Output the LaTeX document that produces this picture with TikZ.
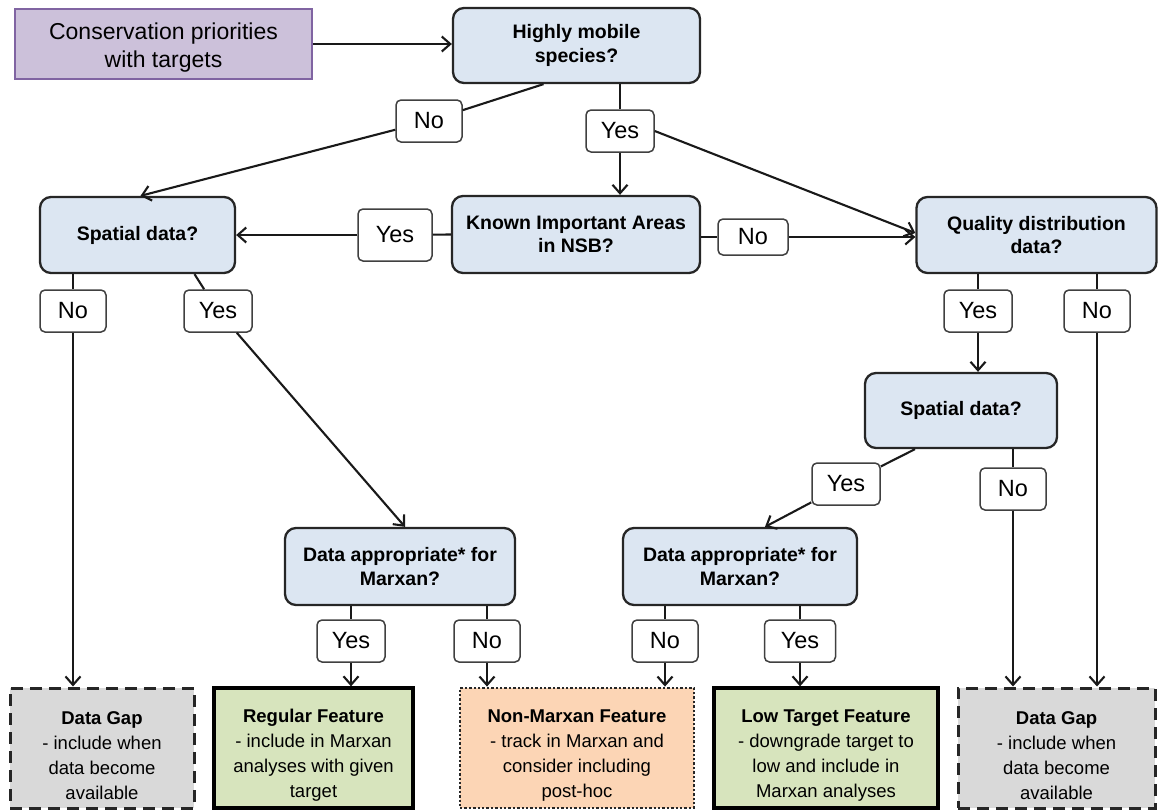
\documentclass[tikz,border=0pt]{standalone}
\usepackage{fontspec}
\setmainfont{Liberation Sans}
\usetikzlibrary{arrows.meta,calc}
\definecolor{decfill}{HTML}{DCE6F2}
\definecolor{purfill}{HTML}{CCC1DA}
\definecolor{purdraw}{HTML}{8064A2}
\definecolor{grnfill}{HTML}{D7E4BD}
\definecolor{orgfill}{HTML}{FCD5B5}
\definecolor{gryfill}{HTML}{D9D9D9}
\newcommand\topstrutx{\rule{0pt}{28pt}}
\begin{document}
\begin{tikzpicture}[x=1pt,y=-1pt,
 dec/.style={draw=black!85, fill=decfill, line width=2.3pt, rounded corners=11pt, align=center, font=\bfseries\fontsize{19.5}{23.5}\selectfont, inner sep=0pt},
 lbl/.style={draw=black!75, fill=white, line width=1.5pt, rounded corners=5pt, font=\fontsize{23.5}{27}\selectfont, inner sep=0pt, minimum height=42pt},
 lyes/.style={lbl, minimum width=68pt},
 lno/.style={lbl, minimum width=66pt},
 outbox/.style={minimum height=120pt, align=center, inner sep=0pt, font=\fontsize{18.5}{25}\selectfont},
 gapbox/.style={outbox, fill=gryfill, draw=black!85, line width=3pt, dash pattern=on 12pt off 7pt},
 grnbox/.style={outbox, fill=grnfill, draw=black, line width=3.3pt},
 orgbox/.style={outbox, fill=orgfill, draw=black!85, line width=2.8pt, dash pattern=on 2.4pt off 2pt},
 conn/.style={line width=2.1pt, draw=black!90},
 arr/.style={conn, -{Straight Barb[length=8.5pt,width=15pt]}}]
\useasboundingbox (0,0) rectangle (1159,811);
% boxes
\node[draw=purdraw, fill=purfill, line width=2.3pt, minimum width=297pt, minimum height=70pt, align=center, inner sep=0pt, font=\fontsize{23}{28}\selectfont] (cons) at (163.5,44) {\rule{0pt}{24pt}Conservation priorities\\with targets};
\node[dec, minimum width=247pt, minimum height=75pt] (hm) at (576.5,45.5) {Highly mobile\\species?};
\node[dec, minimum width=195pt, minimum height=76pt] (sdl) at (137.5,235) {Spatial data?};
\node[dec, minimum width=248pt, minimum height=77pt] (kia) at (576,234.5) {Known Important Areas\\in NSB?};
\node[dec, minimum width=240pt, minimum height=76pt] (qdd) at (1036.5,235) {Quality distribution\\data?};
\node[dec, minimum width=192pt, minimum height=75pt] (sdr) at (961,410.5) {Spatial data?};
\node[dec, minimum width=230pt, minimum height=77pt] (dal) at (400,566.5) {Data appropriate* for\\Marxan?};
\node[dec, minimum width=234pt, minimum height=77pt] (dar) at (740,566.5) {Data appropriate* for\\Marxan?};
\node[gapbox, minimum width=184pt] (gap1) at (102,748) {\topstrutx{\bfseries Data Gap}\\- include when\\data become\\available};
\node[grnbox, minimum width=199pt] (reg) at (313.5,748) {\topstrutx{\bfseries Regular Feature}\\- include in Marxan\\analyses with given\\target};
\node[orgbox, minimum width=234pt] (non) at (577,748) {\topstrutx{\bfseries Non-Marxan Feature}\\- track in Marxan and\\consider including\\post-hoc};
\node[grnbox, minimum width=224pt] (low) at (826,748) {\topstrutx{\bfseries Low Target Feature}\\- downgrade target to\\low and include in\\Marxan analyses};
\node[gapbox, minimum width=197pt] (gap2) at (1056.5,748) {\topstrutx{\bfseries Data Gap}\\- include when\\data become\\available};
% labels
\node[lno] (l1) at (429,121) {No};
\node[lyes] (l2) at (620,131) {Yes};
\node[lbl, minimum width=74pt, minimum height=52pt] (l3) at (395,235) {Yes};
\node[lbl, minimum width=70pt, minimum height=36pt] (l4) at (753,237) {No};
\node[lno] (l5) at (73,311) {No};
\node[lyes] (l6) at (218,311) {Yes};
\node[lyes] (l7) at (978,311) {Yes};
\node[lno] (l8) at (1097,311) {No};
\node[lyes] (l9) at (846,484) {Yes};
\node[lno] (l10) at (1013,489) {No};
\node[lyes] (l11) at (351,641) {Yes};
\node[lno] (l12) at (487,641) {No};
\node[lno] (l13) at (665,641) {No};
\node[lbl, minimum width=71pt] (l14) at (800,641) {Yes};
% connectors
\draw[arr] (cons.east) -- (cons.east -| hm.west);
\draw[conn] ([xshift=-33pt]hm.south) -- (l1);
\draw[arr] (l1) -- ([xshift=3pt]sdl.north);
\draw[conn] (l2 |- hm.south) -- (l2);
\draw[arr] (l2) -- (l2 |- kia.north);
\draw[arr] (l2.east) -- ([yshift=2pt]qdd.west);
\draw[conn] (kia.west) -- (l3);
\draw[arr] (l3) -- (sdl.east);
\draw[conn] (l4 -| kia.east) -- (l4);
\draw[arr] (l4) -- (l4 -| qdd.west);
\draw[conn] (l5 |- sdl.south) -- (l5);
\draw[arr] (l5) -- (l5 |- gap1.north);
\draw[conn] ([xshift=57pt]sdl.south) -- (l6);
\draw[arr] (l6) -- ([xshift=5pt]dal.north);
\draw[conn] (l7 |- qdd.south) -- (l7);
\draw[arr] (l7) -- (l7 |- sdr.north);
\draw[conn] (l8 |- qdd.south) -- (l8);
\draw[arr] (l8) -- (l8 |- gap2.north);
\draw[conn] ([xshift=-46pt]sdr.south) -- (l9);
\draw[arr] (l9) -- ([xshift=25pt]dar.north);
\draw[conn] (l10 |- sdr.south) -- (l10);
\draw[arr] (l10) -- (l10 |- gap2.north);
\draw[conn] (l11 |- dal.south) -- (l11);
\draw[arr] (l11) -- (l11 |- reg.north);
\draw[conn] (l12 |- dal.south) -- (l12);
\draw[arr] (l12) -- (l12 |- non.north);
\draw[conn] (l13 |- dar.south) -- (l13);
\draw[arr] (l13) -- (l13 |- non.north);
\draw[conn] (l14 |- dar.south) -- (l14);
\draw[arr] (l14) -- (l14 |- low.north);
\end{tikzpicture}
\end{document}
